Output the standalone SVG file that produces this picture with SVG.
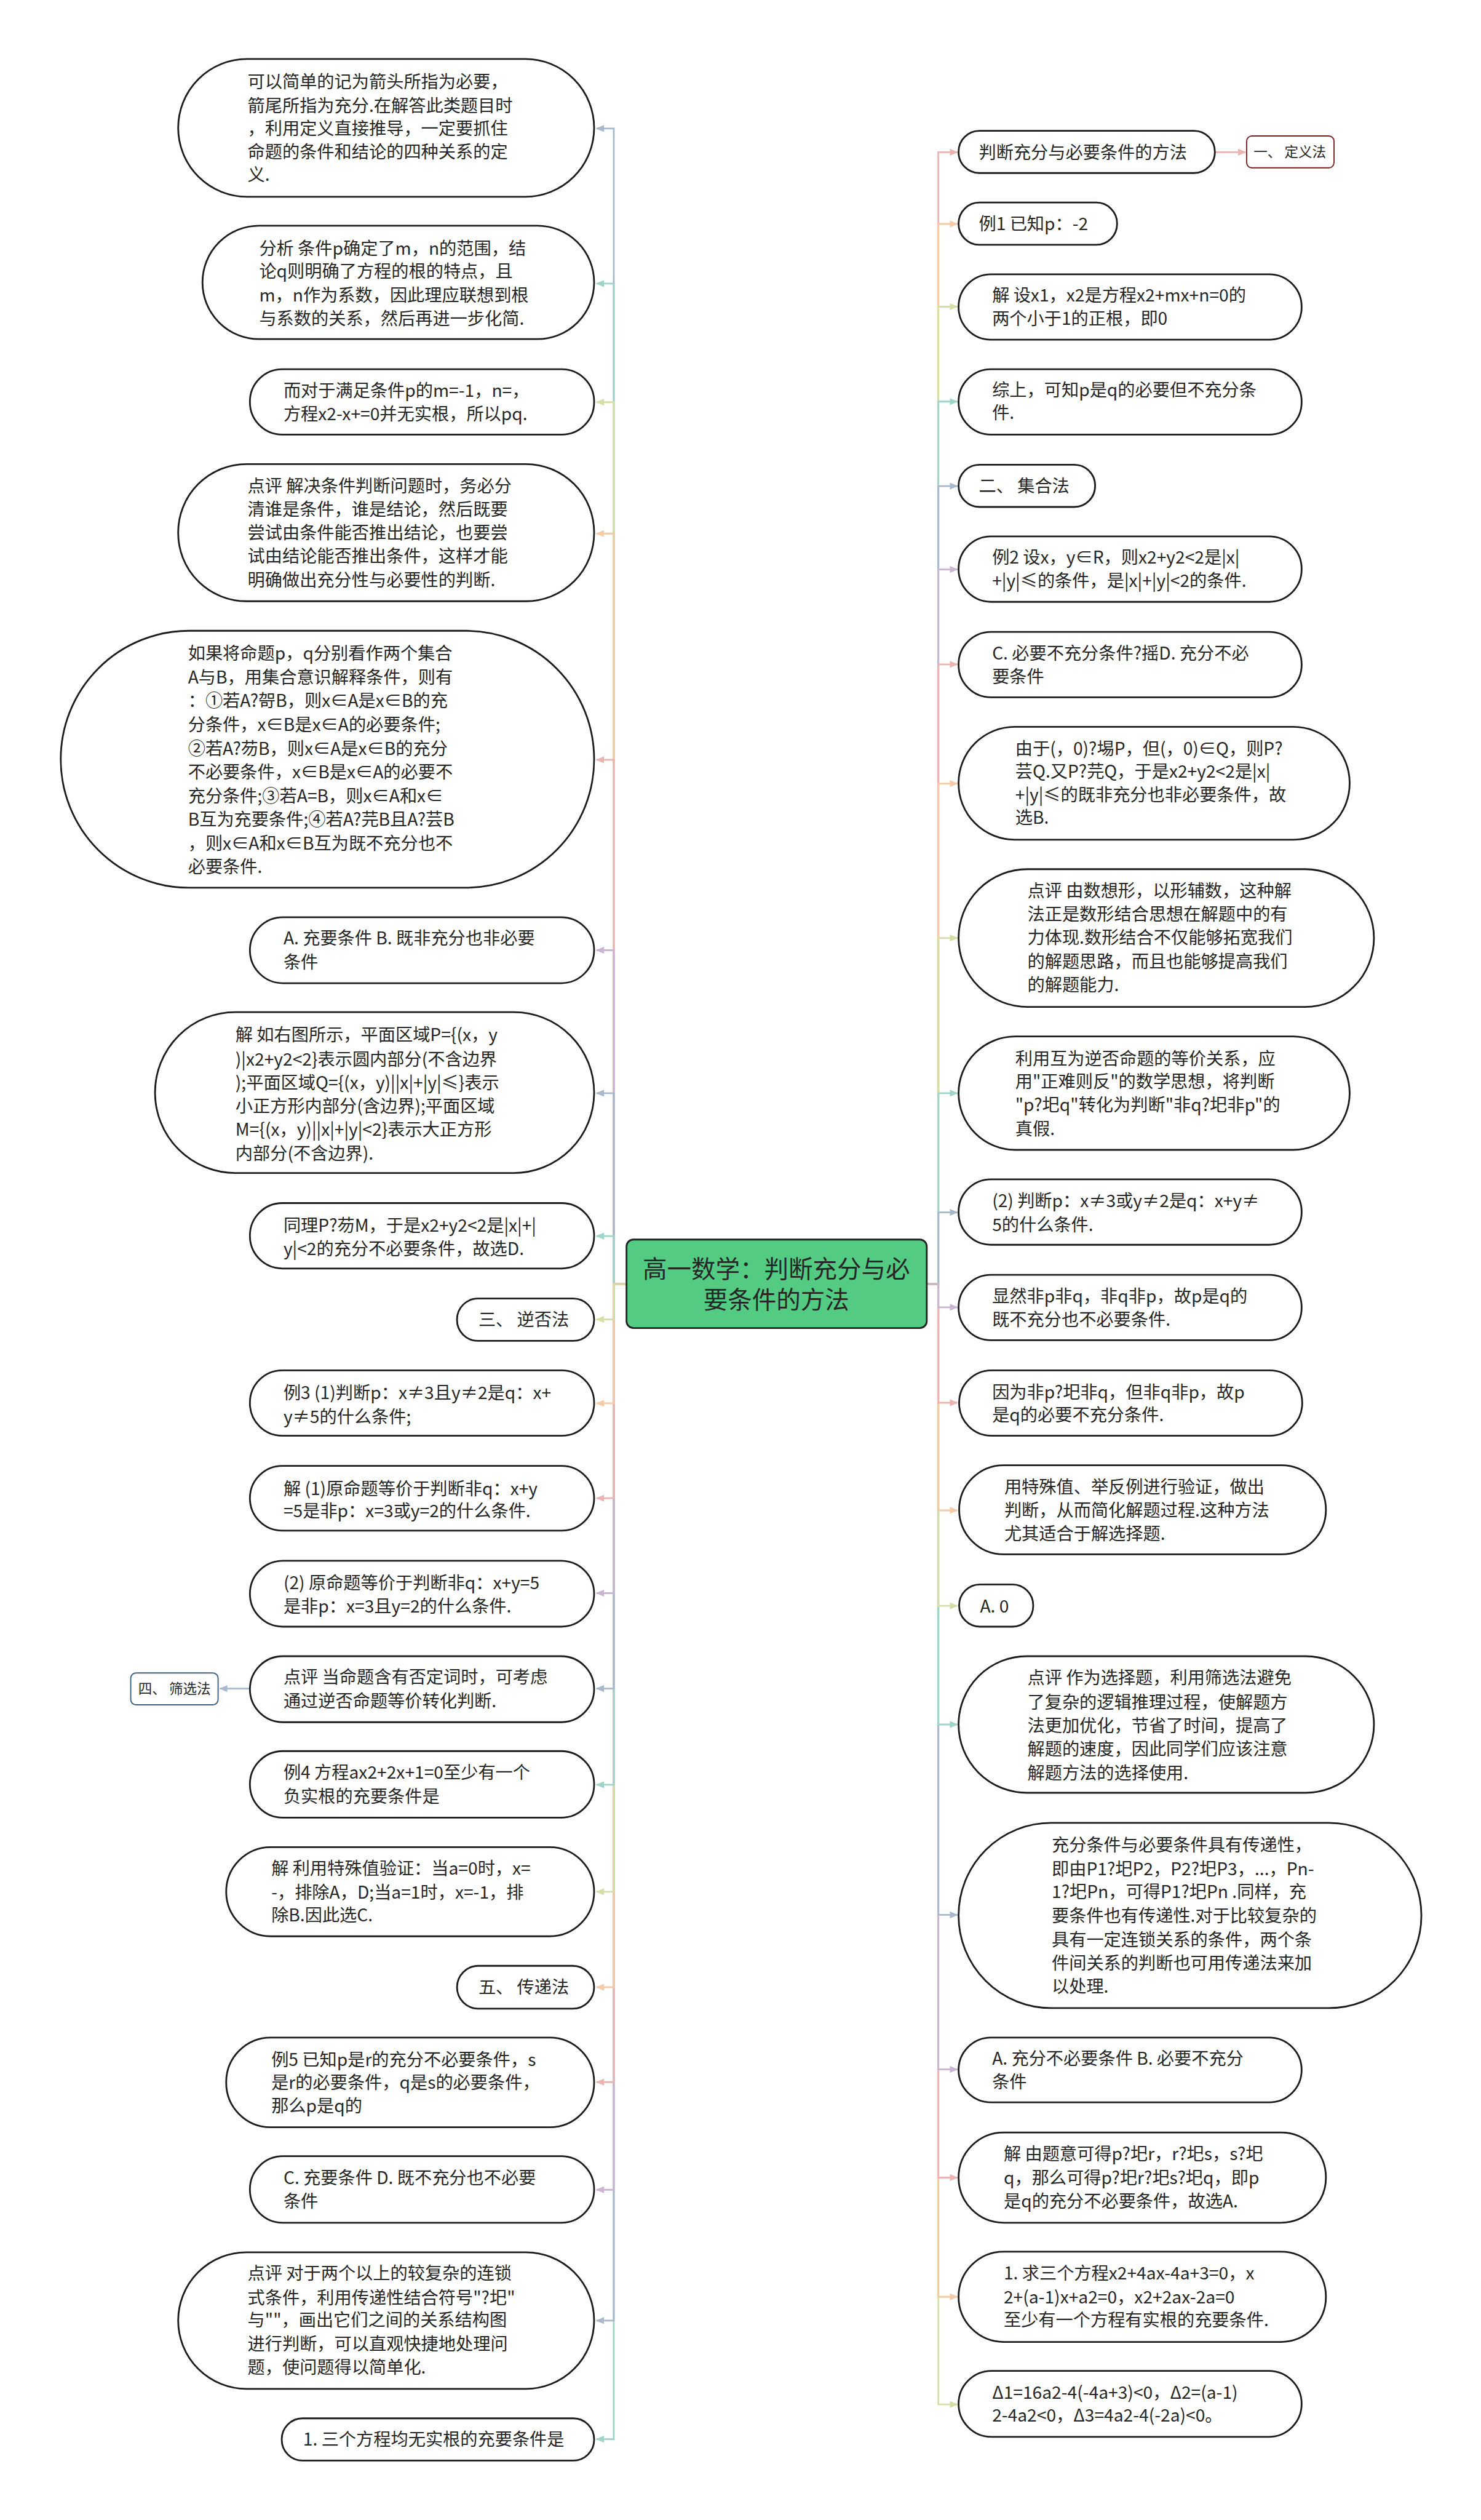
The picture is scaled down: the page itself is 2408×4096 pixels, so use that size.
<svg xmlns="http://www.w3.org/2000/svg" width="2408" height="4096" viewBox="0 0 2408 4096">
<defs>
<style>
.n{fill:#fff;stroke:#1c1c1c;stroke-width:3}
.t{font-family:"Noto Sans CJK SC","Microsoft YaHei",sans-serif;font-size:30px;fill:#262626}
.c{fill:none;stroke-width:3}
.cb{stroke:#a7b8cc}.ct{stroke:#9fd4c8}.cy{stroke:#d6dea6}.cp{stroke:#f5caa6}.ck{stroke:#ecb4b1}.cl{stroke:#c9b5d1}
</style>
<marker id="mb" markerWidth="14" markerHeight="12" refX="13" refY="6" orient="auto" markerUnits="userSpaceOnUse"><path d="M0,0 L14,6 L0,12 Z" fill="#a7b8cc"/></marker>
<marker id="mt" markerWidth="14" markerHeight="12" refX="13" refY="6" orient="auto" markerUnits="userSpaceOnUse"><path d="M0,0 L14,6 L0,12 Z" fill="#9fd4c8"/></marker>
<marker id="my" markerWidth="14" markerHeight="12" refX="13" refY="6" orient="auto" markerUnits="userSpaceOnUse"><path d="M0,0 L14,6 L0,12 Z" fill="#d6dea6"/></marker>
<marker id="mp" markerWidth="14" markerHeight="12" refX="13" refY="6" orient="auto" markerUnits="userSpaceOnUse"><path d="M0,0 L14,6 L0,12 Z" fill="#f5caa6"/></marker>
<marker id="mk" markerWidth="14" markerHeight="12" refX="13" refY="6" orient="auto" markerUnits="userSpaceOnUse"><path d="M0,0 L14,6 L0,12 Z" fill="#ecb4b1"/></marker>
<marker id="ml" markerWidth="14" markerHeight="12" refX="13" refY="6" orient="auto" markerUnits="userSpaceOnUse"><path d="M0,0 L14,6 L0,12 Z" fill="#c9b5d1"/></marker>
</defs>
<rect width="2408" height="4096" fill="#fff"/>
<g transform="scale(0.9406)">
<g id="connectors">
<!-- left top: outer first -->
<path class="c cb" d="M1083,2219 H1061 V222 H1031" marker-end="url(#mb)"/>
<path class="c ct" d="M1083,2219 H1061 V490 H1031" marker-end="url(#mt)"/>
<path class="c cy" d="M1083,2219 H1061 V695 H1031" marker-end="url(#my)"/>
<path class="c cp" d="M1083,2219 H1061 V922 H1031" marker-end="url(#mp)"/>
<path class="c ck" d="M1083,2219 H1061 V1313 H1031" marker-end="url(#mk)"/>
<path class="c cl" d="M1083,2219 H1061 V1642 H1031" marker-end="url(#ml)"/>
<path class="c cb" d="M1083,2219 H1061 V1889 H1031" marker-end="url(#mb)"/>
<path class="c ct" d="M1083,2219 H1061 V2136 H1031" marker-end="url(#mt)"/>
<!-- left bottom: outer first -->
<path class="c ct" d="M1083,2219 H1061 V4215 H1031" marker-end="url(#mt)"/>
<path class="c cb" d="M1083,2219 H1061 V4010 H1031" marker-end="url(#mb)"/>
<path class="c cl" d="M1083,2219 H1061 V3784 H1031" marker-end="url(#ml)"/>
<path class="c ck" d="M1083,2219 H1061 V3598 H1031" marker-end="url(#mk)"/>
<path class="c cp" d="M1083,2219 H1061 V3434 H1031" marker-end="url(#mp)"/>
<path class="c cy" d="M1083,2219 H1061 V3269 H1031" marker-end="url(#my)"/>
<path class="c ct" d="M1083,2219 H1061 V3084 H1031" marker-end="url(#mt)"/>
<path class="c cb" d="M1083,2219 H1061 V2918 H1031" marker-end="url(#mb)"/>
<path class="c cl" d="M1083,2219 H1061 V2753 H1031" marker-end="url(#ml)"/>
<path class="c ck" d="M1083,2219 H1061 V2589 H1031" marker-end="url(#mk)"/>
<path class="c cp" d="M1083,2219 H1061 V2425 H1031" marker-end="url(#mp)"/>
<path class="c cy" d="M1083,2219 H1061 V2280 H1031" marker-end="url(#my)"/>
<path class="c cb" d="M432,2918 H380" marker-end="url(#mb)"/>
<!-- right top: outer first -->
<path class="c ck" d="M1602,2219 H1622 V263 H1655" marker-end="url(#mk)"/>
<path class="c cp" d="M1602,2219 H1622 V387 H1655" marker-end="url(#mp)"/>
<path class="c cy" d="M1602,2219 H1622 V530 H1655" marker-end="url(#my)"/>
<path class="c ct" d="M1602,2219 H1622 V694 H1655" marker-end="url(#mt)"/>
<path class="c cb" d="M1602,2219 H1622 V840 H1655" marker-end="url(#mb)"/>
<path class="c cl" d="M1602,2219 H1622 V984 H1655" marker-end="url(#ml)"/>
<path class="c ck" d="M1602,2219 H1622 V1148 H1655" marker-end="url(#mk)"/>
<path class="c cp" d="M1602,2219 H1622 V1354 H1655" marker-end="url(#mp)"/>
<path class="c cy" d="M1602,2219 H1622 V1621 H1655" marker-end="url(#my)"/>
<path class="c ct" d="M1602,2219 H1622 V1889 H1655" marker-end="url(#mt)"/>
<path class="c cb" d="M1602,2219 H1622 V2095 H1655" marker-end="url(#mb)"/>
<!-- right bottom: outer first -->
<path class="c cy" d="M1602,2219 H1622 V4155 H1655" marker-end="url(#my)"/>
<path class="c cp" d="M1602,2219 H1622 V3969 H1655" marker-end="url(#mp)"/>
<path class="c ck" d="M1602,2219 H1622 V3763 H1655" marker-end="url(#mk)"/>
<path class="c cl" d="M1602,2219 H1622 V3576 H1655" marker-end="url(#ml)"/>
<path class="c cb" d="M1602,2219 H1622 V3309 H1655" marker-end="url(#mb)"/>
<path class="c ct" d="M1602,2219 H1622 V2980 H1655" marker-end="url(#mt)"/>
<path class="c cy" d="M1602,2219 H1622 V2775 H1655" marker-end="url(#my)"/>
<path class="c cp" d="M1602,2219 H1622 V2610 H1655" marker-end="url(#mp)"/>
<path class="c ck" d="M1602,2219 H1622 V2424 H1655" marker-end="url(#mk)"/>
<path class="c cl" d="M1602,2219 H1622 V2259 H1655" marker-end="url(#ml)"/>
<path class="c ck" d="M2100,263 H2153" marker-end="url(#mk)"/>
</g>

<g id="center">
<rect x="1083" y="2142" width="519" height="153" rx="12" fill="#54cb83" stroke="#222" stroke-width="3"/>
<text class="t" style="font-size:42px" fill="#2a2a2a" text-anchor="middle"><tspan x="1342" y="2208">高一数学：判断充分与必</tspan><tspan x="1342" y="2261">要条件的方法</tspan></text>
</g>

<g id="L1"><rect class="n" x="308" y="102" width="719" height="238" rx="119"/><text class="t"><tspan x="428" y="152">可以简单的记为箭头所指为必要，</tspan><tspan x="428" y="193">箭尾所指为充分.在解答此类题目时</tspan><tspan x="428" y="233">，利用定义直接推导，一定要抓住</tspan><tspan x="428" y="273">命题的条件和结论的四种关系的定</tspan><tspan x="428" y="313">义.</tspan></text></g>
<g id="L2"><rect class="n" x="350" y="390" width="677" height="196" rx="98"/><text class="t"><tspan x="448" y="440">分析 条件p确定了m，n的范围，结</tspan><tspan x="448" y="480">论q则明确了方程的根的特点，且</tspan><tspan x="448" y="521">m，n作为系数，因此理应联想到根</tspan><tspan x="448" y="561">与系数的关系，然后再进一步化简.</tspan></text></g>
<g id="L3"><rect class="n" x="432" y="638" width="595" height="113" rx="56"/><text class="t"><tspan x="490" y="686">而对于满足条件p的m=-1，n=，</tspan><tspan x="490" y="726">方程x2-x+=0并无实根，所以pq.</tspan></text></g>
<g id="L4"><rect class="n" x="308" y="802" width="719" height="237" rx="118"/><text class="t"><tspan x="428" y="851">点评 解决条件判断问题时，务必分</tspan><tspan x="428" y="891">清谁是条件，谁是结论，然后既要</tspan><tspan x="428" y="931">尝试由条件能否推出结论，也要尝</tspan><tspan x="428" y="972">试由结论能否推出条件，这样才能</tspan><tspan x="428" y="1013">明确做出充分性与必要性的判断.</tspan></text></g>
<g id="L5"><rect class="n" x="105" y="1090" width="922" height="444" rx="222"/><text class="t"><tspan x="325" y="1140">如果将命题p，q分别看作两个集合</tspan><tspan x="325" y="1181">A与B，用集合意识解释条件，则有</tspan><tspan x="325" y="1222">：①若A?哿B，则x∈A是x∈B的充</tspan><tspan x="325" y="1263">分条件，x∈B是x∈A的必要条件;</tspan><tspan x="325" y="1304">②若A?芴B，则x∈A是x∈B的充分</tspan><tspan x="325" y="1345">不必要条件，x∈B是x∈A的必要不</tspan><tspan x="325" y="1386">充分条件;③若A=B，则x∈A和x∈</tspan><tspan x="325" y="1427">B互为充要条件;④若A?芫B且A?芸B</tspan><tspan x="325" y="1468">，则x∈A和x∈B互为既不充分也不</tspan><tspan x="325" y="1509">必要条件.</tspan></text></g>
<g id="L6"><rect class="n" x="432" y="1585" width="595" height="114" rx="57"/><text class="t"><tspan x="490" y="1632">A. 充要条件 B. 既非充分也非必要</tspan><tspan x="490" y="1673">条件</tspan></text></g>
<g id="L7"><rect class="n" x="268" y="1749" width="759" height="278" rx="139"/><text class="t"><tspan x="407" y="1799">解 如右图所示，平面区域P={(x，y</tspan><tspan x="407" y="1841">)|x2+y2&lt;2}表示圆内部分(不含边界</tspan><tspan x="407" y="1882">);平面区域Q={(x，y)||x|+|y|≤}表示</tspan><tspan x="407" y="1922">小正方形内部分(含边界);平面区域</tspan><tspan x="407" y="1963">M={(x，y)||x|+|y|&lt;2}表示大正方形</tspan><tspan x="407" y="2004">内部分(不含边界).</tspan></text></g>
<g id="L8"><rect class="n" x="432" y="2079" width="595" height="113" rx="56"/><text class="t"><tspan x="490" y="2128">同理P?芴M，于是x2+y2&lt;2是|x|+|</tspan><tspan x="490" y="2169">y|&lt;2的充分不必要条件，故选D.</tspan></text></g>
<g id="L9"><rect class="n" x="790" y="2244" width="237" height="73" rx="36"/><text class="t"><tspan x="827" y="2291">三、 逆否法</tspan></text></g>
<g id="L10"><rect class="n" x="432" y="2368" width="595" height="113" rx="56"/><text class="t"><tspan x="490" y="2418">例3 (1)判断p：x≠3且y≠2是q：x+</tspan><tspan x="490" y="2459">y≠5的什么条件;</tspan></text></g>
<g id="L11"><rect class="n" x="432" y="2533" width="595" height="112" rx="56"/><text class="t"><tspan x="490" y="2583">解 (1)原命题等价于判断非q：x+y</tspan><tspan x="490" y="2622">=5是非p：x=3或y=2的什么条件.</tspan></text></g>
<g id="L12"><rect class="n" x="432" y="2697" width="595" height="114" rx="57"/><text class="t"><tspan x="490" y="2746">(2) 原命题等价于判断非q：x+y=5</tspan><tspan x="490" y="2787">是非p：x=3且y=2的什么条件.</tspan></text></g>
<g id="L13"><rect class="n" x="432" y="2862" width="595" height="114" rx="57"/><text class="t"><tspan x="490" y="2909">点评 当命题含有否定词时，可考虑</tspan><tspan x="490" y="2950">通过逆否命题等价转化判断.</tspan></text></g>
<g id="B4"><rect x="226" y="2891" width="151" height="55" rx="9" fill="#fff" stroke="#3b5f80" stroke-width="2"/><text class="t" style="font-size:24px" fill="#2b5178"><tspan x="239" y="2927">四、 筛选法</tspan></text></g>
<g id="L14"><rect class="n" x="432" y="3026" width="595" height="115" rx="57"/><text class="t"><tspan x="490" y="3074">例4 方程ax2+2x+1=0至少有一个</tspan><tspan x="490" y="3115">负实根的充要条件是</tspan></text></g>
<g id="L15"><rect class="n" x="391" y="3192" width="636" height="154" rx="77"/><text class="t"><tspan x="469" y="3239">解 利用特殊值验证：当a=0时，x=</tspan><tspan x="469" y="3281">-，排除A，D;当a=1时，x=-1，排</tspan><tspan x="469" y="3320">除B.因此选C.</tspan></text></g>
<g id="L16"><rect class="n" x="790" y="3397" width="237" height="74" rx="37"/><text class="t"><tspan x="827" y="3445">五、 传递法</tspan></text></g>
<g id="L17"><rect class="n" x="391" y="3521" width="636" height="155" rx="77"/><text class="t"><tspan x="469" y="3570">例5 已知p是r的充分不必要条件，s</tspan><tspan x="469" y="3609">是r的必要条件，q是s的必要条件，</tspan><tspan x="469" y="3650">那么p是q的</tspan></text></g>
<g id="L18"><rect class="n" x="432" y="3726" width="595" height="115" rx="57"/><text class="t"><tspan x="490" y="3774">C. 充要条件 D. 既不充分也不必要</tspan><tspan x="490" y="3815">条件</tspan></text></g>
<g id="L19"><rect class="n" x="308" y="3892" width="719" height="236" rx="118"/><text class="t"><tspan x="428" y="3939">点评 对于两个以上的较复杂的连锁</tspan><tspan x="428" y="3981">式条件，利用传递性结合符号"?圯"</tspan><tspan x="428" y="4020">与""，画出它们之间的关系结构图</tspan><tspan x="428" y="4061">进行判断，可以直观快捷地处理问</tspan><tspan x="428" y="4102">题，使问题得以简单化.</tspan></text></g>
<g id="L20"><rect class="n" x="487" y="4179" width="540" height="73" rx="36"/><text class="t"><tspan x="524" y="4226">1. 三个方程均无实根的充要条件是</tspan></text></g>

<g id="R1"><rect class="n" x="1657" y="226" width="443" height="73" rx="36"/><text class="t"><tspan x="1692" y="274">判断充分与必要条件的方法</tspan></text></g>
<g id="B1"><rect x="2155" y="235" width="151" height="55" rx="9" fill="#fff" stroke="#7a1f1f" stroke-width="2"/><text class="t" style="font-size:24px" fill="#a3201c"><tspan x="2167" y="271">一、 定义法</tspan></text></g>
<g id="R2"><rect class="n" x="1657" y="350" width="274" height="73" rx="36"/><text class="t"><tspan x="1692" y="398">例1 已知p：-2</tspan></text></g>
<g id="R3"><rect class="n" x="1657" y="474" width="593" height="113" rx="56"/><text class="t"><tspan x="1715" y="521">解 设x1，x2是方程x2+mx+n=0的</tspan><tspan x="1715" y="561">两个小于1的正根，即0</tspan></text></g>
<g id="R4"><rect class="n" x="1657" y="638" width="593" height="113" rx="56"/><text class="t"><tspan x="1715" y="685">综上，可知p是q的必要但不充分条</tspan><tspan x="1715" y="724">件.</tspan></text></g>
<g id="R5"><rect class="n" x="1657" y="803" width="236" height="73" rx="36"/><text class="t"><tspan x="1692" y="851">二、 集合法</tspan></text></g>
<g id="R6"><rect class="n" x="1657" y="927" width="593" height="113" rx="56"/><text class="t"><tspan x="1715" y="974">例2 设x，y∈R，则x2+y2&lt;2是|x|</tspan><tspan x="1715" y="1014">+|y|≤的条件，是|x|+|y|&lt;2的条件.</tspan></text></g>
<g id="R7"><rect class="n" x="1657" y="1092" width="593" height="113" rx="56"/><text class="t"><tspan x="1715" y="1140">C. 必要不充分条件?摇D. 充分不必</tspan><tspan x="1715" y="1180">要条件</tspan></text></g>
<g id="R8"><rect class="n" x="1657" y="1256" width="676" height="195" rx="97"/><text class="t"><tspan x="1755" y="1304">由于(，0)?埸P，但(，0)∈Q，则P?</tspan><tspan x="1755" y="1344">芸Q.又P?芫Q，于是x2+y2&lt;2是|x|</tspan><tspan x="1755" y="1384">+|y|≤的既非充分也非必要条件，故</tspan><tspan x="1755" y="1424">选B.</tspan></text></g>
<g id="R9"><rect class="n" x="1657" y="1502" width="718" height="238" rx="119"/><text class="t"><tspan x="1776" y="1550">点评 由数想形，以形辅数，这种解</tspan><tspan x="1776" y="1590">法正是数形结合思想在解题中的有</tspan><tspan x="1776" y="1631">力体现.数形结合不仅能够拓宽我们</tspan><tspan x="1776" y="1672">的解题思路，而且也能够提高我们</tspan><tspan x="1776" y="1713">的解题能力.</tspan></text></g>
<g id="R10"><rect class="n" x="1657" y="1791" width="676" height="196" rx="98"/><text class="t"><tspan x="1755" y="1840">利用互为逆否命题的等价关系，应</tspan><tspan x="1755" y="1880">用"正难则反"的数学思想，将判断</tspan><tspan x="1755" y="1920">"p?圯q"转化为判断"非q?圯非p"的</tspan><tspan x="1755" y="1962">真假.</tspan></text></g>
<g id="R11"><rect class="n" x="1657" y="2038" width="593" height="113" rx="56"/><text class="t"><tspan x="1715" y="2086">(2) 判断p：x≠3或y≠2是q：x+y≠</tspan><tspan x="1715" y="2127">5的什么条件.</tspan></text></g>
<g id="R12"><rect class="n" x="1657" y="2203" width="593" height="113" rx="56"/><text class="t"><tspan x="1715" y="2251">显然非p非q，非q非p，故p是q的</tspan><tspan x="1715" y="2291">既不充分也不必要条件.</tspan></text></g>
<g id="R13"><rect class="n" x="1658" y="2368" width="593" height="113" rx="56"/><text class="t"><tspan x="1715" y="2417">因为非p?圯非q，但非q非p，故p</tspan><tspan x="1715" y="2456">是q的必要不充分条件.</tspan></text></g>
<g id="R14"><rect class="n" x="1658" y="2532" width="634" height="154" rx="77"/><text class="t"><tspan x="1736" y="2580">用特殊值、举反例进行验证，做出</tspan><tspan x="1736" y="2621">判断，从而简化解题过程.这种方法</tspan><tspan x="1736" y="2661">尤其适合于解选择题.</tspan></text></g>
<g id="R15"><rect class="n" x="1658" y="2738" width="128" height="73" rx="36"/><text class="t"><tspan x="1694" y="2786">A. 0</tspan></text></g>
<g id="R16"><rect class="n" x="1657" y="2862" width="718" height="236" rx="118"/><text class="t"><tspan x="1776" y="2910">点评 作为选择题，利用筛选法避免</tspan><tspan x="1776" y="2952">了复杂的逻辑推理过程，使解题方</tspan><tspan x="1776" y="2993">法更加优化，节省了时间，提高了</tspan><tspan x="1776" y="3033">解题的速度，因此同学们应该注意</tspan><tspan x="1776" y="3075">解题方法的选择使用.</tspan></text></g>
<g id="R17"><rect class="n" x="1657" y="3150" width="800" height="320" rx="160"/><text class="t"><tspan x="1818" y="3199">充分条件与必要条件具有传递性，</tspan><tspan x="1818" y="3240">即由P1?圯P2，P2?圯P3，...，Pn-</tspan><tspan x="1818" y="3280">1?圯Pn，可得P1?圯Pn .同样，充</tspan><tspan x="1818" y="3321">要条件也有传递性.对于比较复杂的</tspan><tspan x="1818" y="3363">具有一定连锁关系的条件，两个条</tspan><tspan x="1818" y="3403">件间关系的判断也可用传递法来加</tspan><tspan x="1818" y="3444">以处理.</tspan></text></g>
<g id="R18"><rect class="n" x="1657" y="3521" width="593" height="112" rx="56"/><text class="t"><tspan x="1715" y="3568">A. 充分不必要条件 B. 必要不充分</tspan><tspan x="1715" y="3608">条件</tspan></text></g>
<g id="R19"><rect class="n" x="1657" y="3685" width="635" height="156" rx="78"/><text class="t"><tspan x="1735" y="3733">解 由题意可得p?圯r，r?圯s，s?圯</tspan><tspan x="1735" y="3774">q，那么可得p?圯r?圯s?圯q，即p</tspan><tspan x="1735" y="3815">是q的充分不必要条件，故选A.</tspan></text></g>
<g id="R20"><rect class="n" x="1657" y="3891" width="635" height="156" rx="78"/><text class="t"><tspan x="1735" y="3939">1. 求三个方程x2+4ax-4a+3=0，x</tspan><tspan x="1735" y="3980">2+(a-1)x+a2=0，x2+2ax-2a=0</tspan><tspan x="1735" y="4020">至少有一个方程有实根的充要条件.</tspan></text></g>
<g id="R21"><rect class="n" x="1657" y="4097" width="593" height="114" rx="57"/><text class="t"><tspan x="1715" y="4145">Δ1=16a2-4(-4a+3)&lt;0，Δ2=(a-1)</tspan><tspan x="1715" y="4185">2-4a2&lt;0，Δ3=4a2-4(-2a)&lt;0。</tspan></text></g>
</g>
</svg>
